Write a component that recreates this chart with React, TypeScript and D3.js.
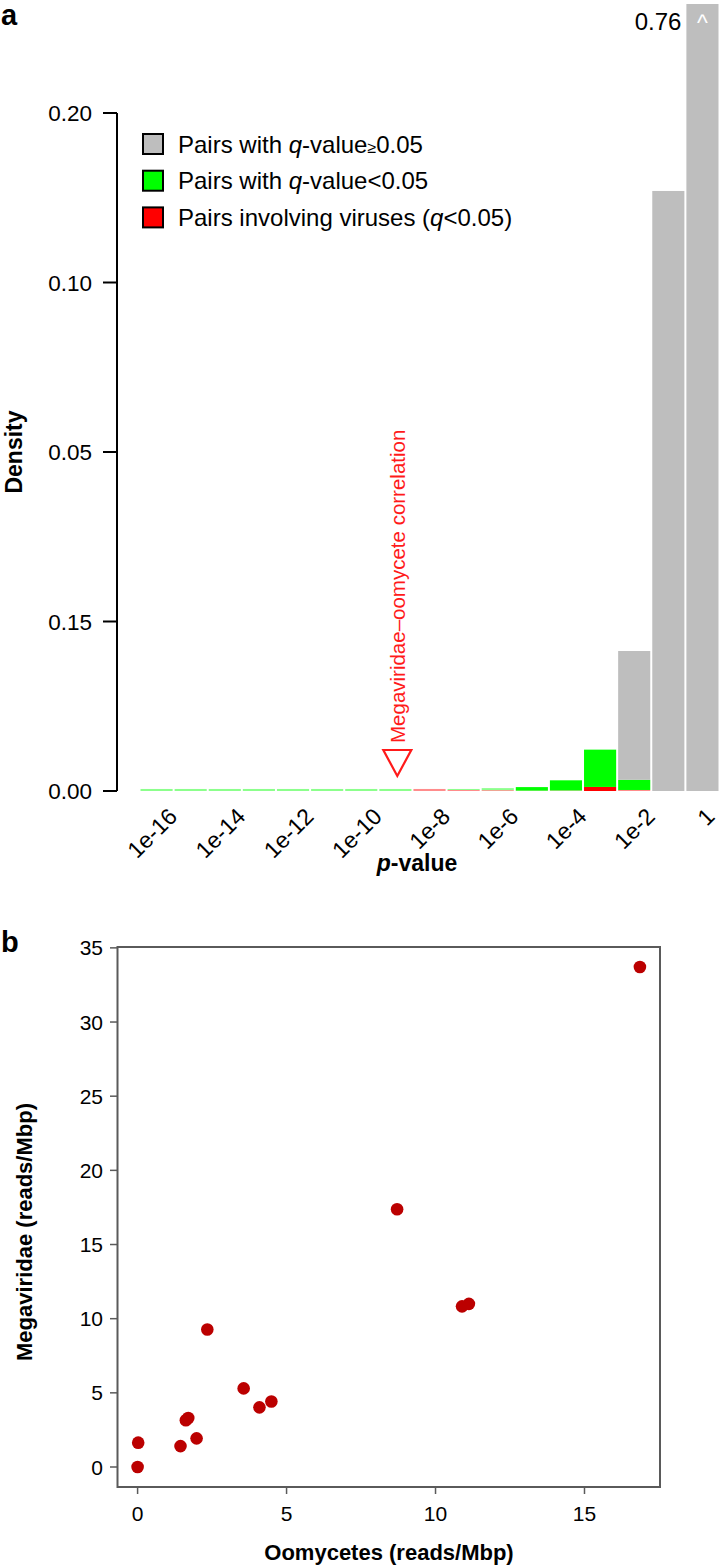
import React from 'react';
import * as d3 from 'd3';

// panel a: histogram of log10 p-values, one bin per decade
const binStart = [-17, -16, -15, -14, -13, -12, -11, -10, -9, -8, -7, -6, -5, -4, -3, -2, -1];
const grayVals = [0, 0, 0, 0, 0, 0, 0, 0, 0, 0, 0, 0, 0, 0, 0.0076, 0.154, 0.76];
const greenVals = [0.00012, 0.00012, 0.00012, 0.00012, 0.00012, 0.00012, 0.00012, 0.00012, 0, 0.00006, 0.00012, 0.00021, 0.0006, 0.0022, 0.0006, 0, 0];
const redVals = [0, 0, 0, 0, 0, 0, 0, 0, 0.00012, 0.00006, 0.00005, 0.00002, 0.00003, 0.00024, 0.00006, 0, 0];
const xTickExp = [-16, -14, -12, -10, -8, -6, -4, -2, 0];
const xTickLabels = ['1e-16', '1e-14', '1e-12', '1e-10', '1e-8', '1e-6', '1e-4', '1e-2', '1'];
const yTickVals = [0, 0.01, 0.05, 0.1, 0.2];
const yTickLabels = ['0.00', '0.15', '0.05', '0.10', '0.20'];
const legendKeys = ['gray', 'green', 'red'];
const annotP = 3.6e-10;
const topLabel = '0.76';

// panel b: scatter
const oomycetes = [0, 0.02, 1.44, 1.62, 1.7, 1.98, 2.34, 3.56, 4.09, 4.49, 8.71, 10.89, 11.12, 16.86];
const megaviridae = [0, 1.64, 1.41, 3.15, 3.3, 1.93, 9.27, 5.3, 4.02, 4.42, 17.38, 10.83, 11.0, 33.71];
const bxTicks = [0, 5, 10, 15];
const byTicks = [0, 5, 10, 15, 20, 25, 30, 35];

const FONT = 'Liberation Sans, Arial, Helvetica, sans-serif';
const GRAY = '#bebebe';
const GREEN = '#00ff00';
const RED = '#ff0000';

const App = () => {
  const W = 720;
  const H = 1567;

  // ---- panel a scales
  const x = d3.scaleLinear().domain([-17, 0]).range([139.5, 719.5]);
  const y = d3.scaleLinear().domain(yTickVals).range([791, 621.5, 452, 282.5, 113]);
  const yTop = 4;
  const yy = (v: number) => Math.max(y(v), yTop);

  const bars = binStart.map((lo, i) => {
    const r = redVals[i];
    const g = greenVals[i];
    const gr = grayVals[i];
    return { lo, hi: lo + 1, segs: [
      { v0: 0, v1: r, c: RED },
      { v0: r, v1: r + g, c: GREEN },
      { v0: r + g, v1: r + g + gr, c: GRAY },
    ] };
  });

  const ax = x(Math.log10(annotP));
  const base = y(0);

  // ---- panel b scales (R style 4% padding)
  const xe = d3.extent(oomycetes) as [number, number];
  const ye = d3.extent(megaviridae) as [number, number];
  const px = (xe[1] - xe[0]) * 0.04;
  const py = (ye[1] - ye[0]) * 0.04;
  const bx = d3.scaleLinear().domain([xe[0] - px, xe[1] + px]).range([117.5, 660]);
  const by = d3.scaleLinear().domain([ye[0] - py, ye[1] + py]).range([1487, 947]);
  const pts = oomycetes.map((v, i) => ({ x: v, y: megaviridae[i] }));

  return (
    <div style={{ position: 'absolute', left: 0, top: 0 }}>
      <svg width={W} height={H} style={{ display: 'block', background: '#fff' }} fontFamily={FONT}>
        {/* panel a */}
        <text x={1} y={25} fontSize={29} fontWeight="bold">a</text>

        {bars.map((b, i) => (
          <g key={i}>
            {b.segs.filter(s => s.v1 > s.v0).map((s, j) => {
              const h = yy(s.v0) - yy(s.v1);
              return (
                <rect key={j} x={x(b.lo) + 1} width={x(b.hi) - x(b.lo) - 2}
                  y={yy(s.v1)} height={h} fill={s.c} fillOpacity={h < 3 ? 0.45 : 1} />
              );
            })}
          </g>
        ))}

        <text x={x(-1) - 4} y={30} fontSize={24} textAnchor="end">{topLabel}</text>
        <text x={(x(-1) + x(0)) / 2} y={31} fontSize={23} fill="#fff" textAnchor="middle">^</text>

        {/* y axis */}
        <line x1={117} x2={117} y1={y(0.2)} y2={y(0)} stroke="#000" strokeWidth={2} />
        {yTickVals.map((v, i) => (
          <g key={i}>
            <line x1={103} x2={117} y1={y(v)} y2={y(v)} stroke="#000" strokeWidth={2} />
            <text x={92} y={y(v) + 8} fontSize={22.5} textAnchor="end">{yTickLabels[i]}</text>
          </g>
        ))}
        <text transform={`translate(22,${(y(0) + y(0.2)) / 2}) rotate(-90)`} fontSize={23}
          fontWeight="bold" textAnchor="middle">Density</text>

        {/* x tick labels */}
        {xTickExp.map((e, i) => (
          <text key={i} transform={`translate(${Math.min(x(e) + 5, W - 4)},${base + 27}) rotate(-45)`} fontSize={23}
            textAnchor="end">{xTickLabels[i]}</text>
        ))}
        <text x={417} y={871} fontSize={23} fontWeight="bold" textAnchor="middle">
          <tspan fontStyle="italic">p</tspan>-value
        </text>

        {/* legend */}
        {legendKeys.map((k, i) => {
          const ly = 144 + i * 36.7;
          const fill = [GRAY, GREEN, RED][i];
          return (
            <g key={k}>
              <rect x={143} y={ly - 10} width={20} height={20} fill={fill} stroke="#000" strokeWidth={2} />
              <text x={178} y={ly + 8.5} fontSize={24}>
                {i === 0 && (<><tspan>Pairs with </tspan><tspan fontStyle="italic">q</tspan><tspan>-value</tspan><tspan fontSize={16}>≥</tspan><tspan>0.05</tspan></>)}
                {i === 1 && (<><tspan>Pairs with </tspan><tspan fontStyle="italic">q</tspan><tspan>-value&lt;0.05</tspan></>)}
                {i === 2 && (<><tspan>Pairs involving viruses (</tspan><tspan fontStyle="italic">q</tspan><tspan>&lt;0.05)</tspan></>)}
              </text>
            </g>
          );
        })}

        {/* annotation */}
        <path d={`M${ax - 14},${base - 41} L${ax + 14},${base - 41} L${ax},${base - 15} Z`}
          fill="none" stroke="#ff1a1a" strokeWidth={2.2} />
        <text transform={`translate(${ax + 7.5},${base - 48}) rotate(-90)`} fontSize={20.5}
          fill="#ff1a1a">Megaviridae–oomycete correlation</text>

        {/* panel b */}
        <text x={1} y={952} fontSize={29} fontWeight="bold">b</text>
        <rect x={bx.range()[0]} y={by.range()[1]} width={bx.range()[1] - bx.range()[0]}
          height={by.range()[0] - by.range()[1]} fill="none" stroke="#5a5a5a" strokeWidth={2} />
        {byTicks.map(v => (
          <g key={v}>
            <line x1={110} x2={117.5} y1={by(v)} y2={by(v)} stroke="#5a5a5a" strokeWidth={1.5} />
            <text x={103} y={by(v) + 7.5} fontSize={21} textAnchor="end">{v}</text>
          </g>
        ))}
        {bxTicks.map(v => (
          <g key={v}>
            <line x1={bx(v)} x2={bx(v)} y1={1487} y2={1494} stroke="#5a5a5a" strokeWidth={1.5} />
            <text x={bx(v)} y={1521} fontSize={21} textAnchor="middle">{v}</text>
          </g>
        ))}
        {pts.map((p, i) => (
          <circle key={i} cx={bx(p.x)} cy={by(p.y)} r={6.3} fill="#bb0000" />
        ))}
        <text x={389} y={1560} fontSize={22} fontWeight="bold" textAnchor="middle">Oomycetes (reads/Mbp)</text>
        <text transform={`translate(32,1232) rotate(-90)`} fontSize={22}
          fontWeight="bold" textAnchor="middle">Megaviridae (reads/Mbp)</text>
      </svg>
    </div>
  );
};

export default App;
